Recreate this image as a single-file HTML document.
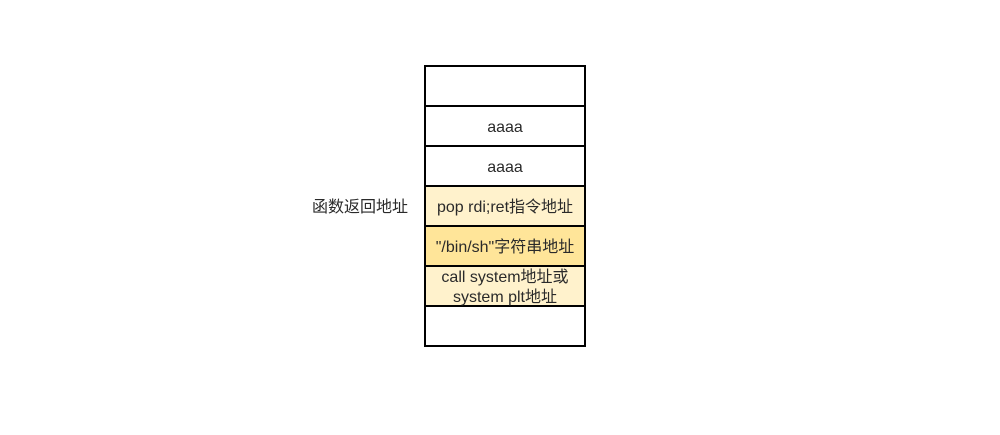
<!DOCTYPE html>
<html><head><meta charset="utf-8"><style>
html,body{margin:0;padding:0;background:#fff;}
svg text{font-family:"Liberation Sans","Noto Sans CJK SC",sans-serif;font-size:16px;fill:#2a2a2a;}
</style></head><body>
<svg width="1000" height="430" xmlns="http://www.w3.org/2000/svg">
<g stroke="#000" stroke-width="2">
<rect x="425" y="66" width="160" height="40" fill="#fff"/>
<rect x="425" y="106" width="160" height="40" fill="#fff"/>
<rect x="425" y="146" width="160" height="40" fill="#fff"/>
<rect x="425" y="186" width="160" height="40" fill="#fff2cc"/>
<rect x="425" y="226" width="160" height="40" fill="#ffe599"/>
<rect x="425" y="266" width="160" height="40" fill="#fff2cc"/>
<rect x="425" y="306" width="160" height="40" fill="#fff"/>
</g>
<g text-anchor="middle">
<text x="505" y="132">aaaa</text>
<text x="505" y="172">aaaa</text>
<text x="505" y="212">pop rdi;ret指令地址</text>
<text x="505" y="252">"/bin/sh"字符串地址</text>
<text x="505" y="282">call system地址或</text>
<text x="505" y="302">system plt地址</text>
<text x="360" y="212">函数返回地址</text>
</g>
</svg>
</body></html>
